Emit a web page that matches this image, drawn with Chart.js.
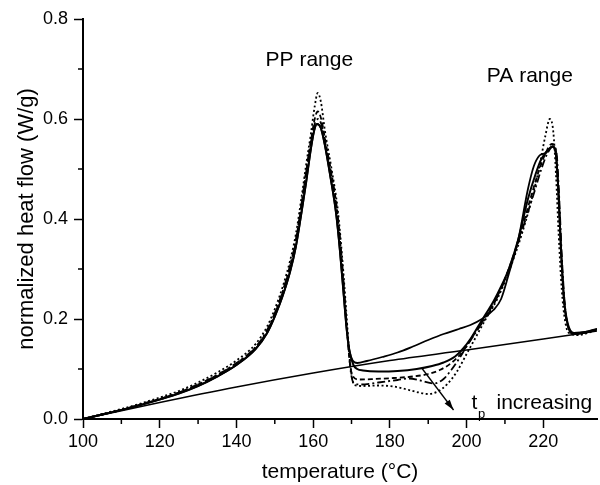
<!DOCTYPE html>
<html>
<head>
<meta charset="utf-8">
<script src="https://cdn.jsdelivr.net/npm/chart.js@4.4.0/dist/chart.umd.min.js"></script>
<style>
  body { margin: 0; background: #fff; }
</style>
</head>
<body>
<canvas id="dsc" width="600" height="485"></canvas>
<script>
// temperature (°C) and normalized heat flow (W/g)
const baseT = [100, 120, 140, 160, 180, 200, 220, 234];
const baseQ = [0, 0.033, 0.064, 0.092, 0.117, 0.138, 0.16, 0.176];

const refT = [100,105,110,115,120,125,130,135,140,145,148,150,152,154,155.5,157,158.2,159.4,160.3,161,162,163,164.6,166,167,168,168.8,169.5,170.3,171.5,174,178,182,186,190,194,198,201,204,207,209,211,213.5,216,217.5,219,220.5,221.5,222.5,223.3,224,224.7,225.5,226.5,228,231,234];
const refQ = [0,0.009,0.018,0.028,0.039,0.051,0.066,0.085,0.108,0.14,0.172,0.205,0.245,0.295,0.345,0.415,0.475,0.54,0.578,0.59,0.582,0.55,0.48,0.41,0.335,0.245,0.175,0.135,0.117,0.112,0.116,0.124,0.133,0.145,0.158,0.17,0.18,0.188,0.2,0.218,0.24,0.29,0.36,0.46,0.505,0.527,0.532,0.54,0.545,0.53,0.45,0.33,0.23,0.185,0.172,0.174,0.18];

const solidT = [100,105,110,115,120,125,130,135,140,145,148,150,152,154,155.5,157,158.2,159.4,160.3,161,162,163,164.6,166,167,168,168.8,169.5,170.5,171.5,173,177,182,187,191,194,197,199,201,203,205,207,209,211,213.5,216,218,219.5,221,222.3,223.2,223.9,224.6,225.4,226.4,228,231,234];
const solidQ = [0,0.009,0.018,0.028,0.039,0.051,0.066,0.085,0.108,0.14,0.172,0.205,0.245,0.295,0.345,0.415,0.475,0.54,0.578,0.59,0.582,0.55,0.48,0.41,0.335,0.245,0.175,0.135,0.108,0.1,0.097,0.095,0.096,0.1,0.106,0.113,0.125,0.14,0.16,0.185,0.21,0.235,0.265,0.3,0.36,0.44,0.49,0.52,0.535,0.545,0.535,0.46,0.34,0.24,0.19,0.172,0.174,0.18];

const dashT = [100,105,110,115,120,125,130,135,140,145,148,150,152,154,155.5,157,158.2,159.4,160.4,161.2,162.1,163.2,164.8,166.2,167.2,168.1,168.9,169.6,170.4,172,176,181,186,190,193,196,199,202,205,208,211,214,217,219,220.8,222.2,223.2,223.9,224.6,225.4,226.4,228,231,234];
const dashQ = [0,0.009,0.018,0.029,0.04,0.053,0.069,0.088,0.111,0.143,0.176,0.21,0.252,0.305,0.355,0.43,0.495,0.555,0.6,0.615,0.6,0.555,0.49,0.42,0.34,0.25,0.17,0.11,0.085,0.079,0.08,0.082,0.085,0.09,0.098,0.112,0.135,0.17,0.205,0.245,0.3,0.37,0.45,0.5,0.535,0.55,0.54,0.46,0.34,0.24,0.185,0.17,0.173,0.179];

const dashDotT = [100,105,110,115,120,125,130,135,140,145,148,150,152,154,155.5,157,158.2,159.4,160.4,161.3,162.3,163.4,165,166.4,167.4,168.3,169.1,169.8,170.6,172.5,177,182,185,188,191.5,194,196,198,200,203,206,209,212,215,217.5,219.5,221,222.5,223.4,224.1,224.8,225.6,226.6,228.5,231,234];
const dashDotQ = [0,0.009,0.018,0.029,0.04,0.053,0.069,0.088,0.112,0.144,0.178,0.212,0.254,0.307,0.358,0.432,0.495,0.553,0.59,0.6,0.585,0.54,0.475,0.405,0.325,0.235,0.155,0.095,0.072,0.069,0.073,0.078,0.081,0.077,0.071,0.08,0.098,0.12,0.145,0.18,0.215,0.26,0.32,0.39,0.45,0.5,0.53,0.545,0.535,0.45,0.33,0.23,0.18,0.169,0.173,0.179];

const dotT = [100,105,110,115,120,125,130,135,140,145,148,150,152,154,155.5,157,158.2,159.4,160.4,161.2,162,163.1,164.8,166.4,167.5,168.4,169.2,169.9,170.7,173,177,181,184,187,190,192.5,195,197.5,200,202.5,205,208,211,214,217,219,220.5,221.7,222.6,223.3,224,224.8,225.7,226.7,229,234];
const dotQ = [0,0.01,0.02,0.031,0.043,0.056,0.073,0.093,0.117,0.15,0.185,0.22,0.263,0.317,0.37,0.445,0.51,0.57,0.625,0.652,0.635,0.575,0.5,0.42,0.33,0.24,0.155,0.095,0.068,0.066,0.067,0.065,0.06,0.054,0.05,0.055,0.07,0.095,0.13,0.165,0.2,0.24,0.295,0.36,0.44,0.505,0.565,0.6,0.575,0.49,0.37,0.26,0.195,0.172,0.168,0.178];

// annotations, in data units
const notes = [
  { text: 'PP range', t: 159, q: 0.718 },
  { text: 'PA range', t: 216.5, q: 0.686 }
];
const arrowFrom = { t: 188.3, q: 0.102 };
const arrowTo = { t: 196.6, q: 0.018 };

const FONT = "'Liberation Sans', Arial, Helvetica, sans-serif";

function pts(ts, qs) {
  return ts.map((t, i) => ({ x: t, y: qs[i] }));
}

function series(ts, qs, dash, width) {
  return {
    data: pts(ts, qs),
    borderColor: '#000',
    borderWidth: width,
    borderDash: dash,
    pointRadius: 0,
    fill: false,
    cubicInterpolationMode: 'monotone'
  };
}

const isMajorX = v => Math.abs(v % 20) < 1e-6;
const isMajorY = v => Math.round(v * 10) % 2 === 0;

const extras = {
  id: 'extras',
  afterDraw(chart) {
    const ctx = chart.ctx;
    const xs = chart.scales.x, ys = chart.scales.y;
    ctx.save();
    ctx.strokeStyle = '#000';
    ctx.lineWidth = 1.5;
    // minor ticks
    xs.ticks.forEach(tk => {
      if (!isMajorX(tk.value) && Math.abs(tk.value % 10) < 1e-6) {
        const px = xs.getPixelForValue(tk.value);
        ctx.beginPath();
        ctx.moveTo(px, xs.top);
        ctx.lineTo(px, xs.top + 5);
        ctx.stroke();
      }
    });
    ys.ticks.forEach(tk => {
      if (!isMajorY(tk.value)) {
        const py = ys.getPixelForValue(tk.value);
        ctx.beginPath();
        ctx.moveTo(ys.right, py);
        ctx.lineTo(ys.right - 5, py);
        ctx.stroke();
      }
    });

    // labels
    ctx.fillStyle = '#000';
    ctx.font = '21px ' + FONT;
    ctx.textAlign = 'center';
    ctx.textBaseline = 'middle';
    notes.forEach(n => {
      ctx.fillText(n.text, xs.getPixelForValue(n.t), ys.getPixelForValue(n.q));
    });

    // t_p increasing
    ctx.textAlign = 'left';
    ctx.textBaseline = 'alphabetic';
    ctx.fillText('t', xs.getPixelForValue(201.3), ys.getPixelForValue(0.02));
    ctx.font = '13px ' + FONT;
    ctx.fillText('p', xs.getPixelForValue(203), ys.getPixelForValue(0.002));
    ctx.font = '21px ' + FONT;
    ctx.fillText('increasing', xs.getPixelForValue(207.8), ys.getPixelForValue(0.02));

    // arrow
    const x1 = xs.getPixelForValue(arrowFrom.t), y1 = ys.getPixelForValue(arrowFrom.q);
    const x2 = xs.getPixelForValue(arrowTo.t), y2 = ys.getPixelForValue(arrowTo.q);
    ctx.lineWidth = 1.3;
    ctx.beginPath();
    ctx.moveTo(x1, y1);
    ctx.lineTo(x2, y2);
    ctx.stroke();
    const ang = Math.atan2(y2 - y1, x2 - x1);
    ctx.beginPath();
    ctx.moveTo(x2, y2);
    ctx.lineTo(x2 - 11 * Math.cos(ang - 0.3), y2 - 11 * Math.sin(ang - 0.3));
    ctx.lineTo(x2 - 11 * Math.cos(ang + 0.3), y2 - 11 * Math.sin(ang + 0.3));
    ctx.closePath();
    ctx.fill();
    ctx.restore();
  }
};

new Chart(document.getElementById('dsc'), {
  type: 'line',
  data: {
    datasets: [
      series(baseT, baseQ, [], 1.5),
      series(refT, refQ, [], 1.8),
      series(solidT, solidQ, [], 2),
      series(dashT, dashQ, [5, 3], 1.8),
      series(dashDotT, dashDotQ, [8, 3, 2, 3], 1.8),
      series(dotT, dotQ, [2, 2.5], 1.8)
    ]
  },
  options: {
    responsive: false,
    animation: false,
    devicePixelRatio: 1,
    layout: { padding: { top: 19, right: 0, bottom: 0, left: 0 } },
    plugins: { legend: { display: false }, tooltip: { enabled: false } },
    scales: {
      x: {
        type: 'linear',
        min: 100,
        max: 234,
        afterFit: s => { s.height = 66; },
        ticks: {
          stepSize: 10,
          autoSkip: false,
          maxRotation: 0,
          padding: 3,
          color: '#000',
          font: { family: FONT, size: 18 },
          callback: v => (isMajorX(v) ? String(v) : '')
        },
        grid: {
          drawOnChartArea: false,
          tickLength: 9,
          tickWidth: 1.5,
          tickColor: c => (c.tick && isMajorX(c.tick.value) ? '#000' : 'rgba(0,0,0,0)')
        },
        border: { display: true, color: '#000', width: 2 },
        title: {
          display: true,
          text: 'temperature (°C)',
          color: '#000',
          font: { family: FONT, size: 21 },
          padding: { top: 0, bottom: 0 }
        }
      },
      y: {
        min: 0,
        max: 0.8,
        afterFit: s => { s.width = 83; },
        ticks: {
          stepSize: 0.1,
          padding: 6,
          color: '#000',
          font: { family: FONT, size: 18 },
          callback: v => (isMajorY(v) ? v.toFixed(1) : '')
        },
        grid: {
          drawOnChartArea: false,
          tickLength: 9,
          tickWidth: 1.5,
          tickColor: c => (c.tick && isMajorY(c.tick.value) ? '#000' : 'rgba(0,0,0,0)')
        },
        border: { display: true, color: '#000', width: 2 },
        title: {
          display: true,
          text: 'normalized heat flow (W/g)',
          color: '#000',
          font: { family: FONT, size: 22 },
          padding: { top: 14, bottom: 0 }
        }
      }
    }
  },
  plugins: [extras]
});
</script>
</body>
</html>
